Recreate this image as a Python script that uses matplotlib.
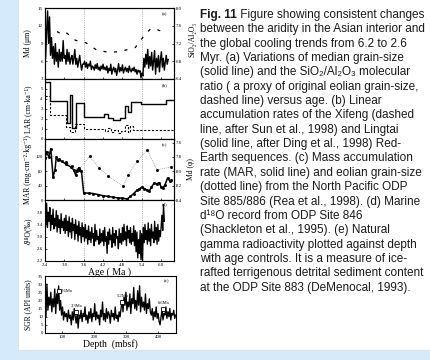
import numpy as np
import matplotlib.pyplot as plt
from matplotlib.patches import Rectangle

serif = ['Liberation Serif', 'DejaVu Serif']
sans = ['Liberation Sans', 'DejaVu Sans']
plt.rcParams['font.family'] = serif

# (a) median grain size (um), evenly sampled 2.42-6.22 Ma
md_um = [6.5, 11, 14.5, 9, 13.5, 7, 10,
         6.5, 8.5, 5.5, 9, 6, 7.5, 5, 8, 6,
         7.5, 6, 9.5, 6.5, 7, 5.5, 8, 6, 7.5, 5.5, 6.5,
         7, 5.5, 6.5, 8, 5.5, 6.5, 5, 6, 7, 5.5, 4.5, 5.5,
         5.5, 6, 5, 5.8, 4.8, 5.5, 5.2, 6, 4.6, 5.2, 5, 4.5, 5.4, 4.8, 5.6, 4.6,
         5, 4.4, 5.2, 4.7, 5.5, 4.6, 5,
         4.5, 5.2, 4, 4.8, 4.4, 5.5, 3.8, 4.6, 5, 4.2, 4.8, 3.6, 4.5, 5.6, 4.2,
         4.9, 4.4, 5.4, 4, 4.6, 5, 4.3, 4.8, 4.1, 5.2, 4.5, 4.2, 4.8, 4.4, 5,
         4.2, 4.6, 3.8, 4.5, 4.2, 4.4,
         3.2, 4, 3.5,
         6.5, 5, 7.2, 5.5, 8, 4.8, 6.8, 5.2, 7.5, 4.5, 6, 7.8, 3.8, 6.5, 5, 7,
         4.2, 6.2, 7.6, 5, 6.5, 4.5, 5.8, 7, 5.5, 6.3]
md_start, md_end = 2.42, 6.22

# (a) SiO2/Al2O3 molecular ratio
sio2_age = [2.77, 2.92, 3.05, 3.35, 3.66, 4.03, 4.43, 4.74, 5.20, 5.51, 5.69, 5.85, 6.03]
sio2_ratio = [7.47, 7.41, 7.45, 7.27, 7.22, 7.04, 7.00, 7.02, 7.11, 7.41, 7.54, 7.52, 7.47]

# (b) linear accumulation rates (cm/ka)
lingtai_age = [2.40, 2.56, 3.08, 3.17, 3.23, 3.35, 3.60, 4.22, 4.34, 4.52, 4.74,
               4.89, 4.98, 5.08, 5.38, 6.15, 6.40]
lingtai_lar = [5.7, 3.8, 1.6, 4.4, 1.1, 3.6, 2.2, 2.5, 2.1, 1.9, 2.1,
               3.3, 2.7, 3.7, 3.5, 3.9, 3.9]
xifeng_age = [2.40, 2.55, 3.06, 3.17, 3.33, 3.60, 4.25, 4.35, 4.45, 4.55, 4.65,
              4.75, 4.88, 4.96, 5.05, 5.12, 6.40]
xifeng_lar = [4.3, 2.4, 1.2, 0.7, 1.5, 1.0, 0.8, 1.1, 0.7, 0.9, 0.6,
              0.8, 1.4, 0.7, 1.3, 0.9, 0.9]

# (c) MAR and eolian grain size (phi)
mar_age = [2.40, 2.45, 2.52, 2.58, 2.65, 2.71, 2.75, 2.80, 2.92, 3.05, 3.20, 3.29,
           3.35, 3.38, 3.45, 3.53, 3.60, 3.75, 3.90, 4.05, 4.20, 4.35, 4.50, 4.65,
           4.80, 4.95, 5.05, 5.15, 5.25, 5.32, 5.40, 5.48, 5.55, 5.62, 5.70, 5.78,
           5.86, 5.94, 6.00, 6.06, 6.12, 6.20, 6.28, 6.32]
mar = [117, 134, 120, 143, 64, 84, 120, 112, 108, 100, 92, 84,
       70, 81, 90, 80, 20, 19, 18, 15, 12, 10, 8, 6,
       5, 3, 10, 18, 27, 30, 36, 32, 28, 24, 35, 47,
       45, 48, 37, 34, 42, 61, 52, 56]
mdphi_age = [2.40, 2.83, 3.05, 3.23, 3.45, 3.78, 4.06, 4.35, 4.82, 4.98, 5.26, 5.57, 5.87, 6.31]
mdphi = [7.74, 7.83, 7.87, 7.92, 7.98, 7.79, 7.95, 8.06, 8.21, 8.05, 7.86, 7.70, 7.98, 7.94]

# (d) benthic d18O, ODP 846, evenly sampled 2.40-6.10 Ma
d18o = [3.9, 3.4, 4.1, 3.3, 3.8, 3.5, 3.95, 3.2, 3.7, 3.4, 3.9, 3.25, 3.6, 3.35, 3.85, 3.15,
        3.7, 3.3, 3.55, 3.1, 3.75, 3.3, 3.5, 3.2,
        3.6, 3.1, 3.7, 3.2, 3.5, 3.0, 3.65, 3.15, 3.45, 2.95, 3.6, 3.2, 3.4, 2.9, 3.55, 3.1,
        3.35, 2.85, 3.5, 3.05, 3.3, 2.8, 3.45, 3.0,
        3.3, 2.85, 3.4, 2.95, 3.2, 2.75, 3.35, 2.9, 3.15, 2.8, 3.3, 2.95, 3.1, 2.7, 3.4, 2.85,
        3.2, 2.9, 3.0, 2.75, 3.25, 2.8, 3.1, 2.85,
        3.2, 2.7, 3.3, 2.85, 3.0, 2.45, 3.15, 2.75, 3.25, 2.9, 3.05, 2.65, 3.3, 2.8, 3.1, 2.7,
        3.2, 2.95, 3.0, 2.6, 3.25, 2.8, 3.1, 2.75,
        3.3, 2.85, 3.4, 2.9, 3.15, 2.7, 3.35, 2.95, 3.2, 2.8, 3.3, 2.75, 3.1, 2.85, 3.35, 2.7,
        3.2, 2.5, 3.15, 2.3, 2.9, 2.45, 3.2, 2.25,
        3.1, 2.2, 3.3, 2.8, 3.4, 2.9, 3.2, 2.75, 3.45, 2.85, 3.25, 2.7, 3.4, 2.95, 3.15, 2.8,
        3.5, 2.9, 3.3, 2.75, 3.4, 2.85, 3.2, 3.0,
        3.3, 3.7, 3.2, 4.05, 3.5]
d18o_start, d18o_end = 2.40, 6.10

# (e) natural gamma (API units), ODP 883, evenly sampled 50-455 mbsf
sgr = [10, 30, 14, 22, 17, 25, 13, 21, 16, 27, 12, 24, 18, 29, 14, 20,
       11, 16, 8, 13, 10,
       12, 7, 14, 9, 11, 5, 13, 8, 15, 10, 6, 12, 3, 11, 9, 14, 7, 12, 10, 16, 8, 11, 6, 13,
       9, 15, 7, 12, 10, 18, 8, 13, 9, 11, 5, 14, 10, 19, 8, 12, 7, 15, 9, 13, 11, 6, 14, 10,
       12, 8, 16, 9, 11, 7, 13, 10,
       15, 20, 13, 22, 17, 25, 14, 19, 16, 24, 12, 21, 18, 28, 15, 20, 14, 26, 17, 29, 13, 22,
       16, 19, 14, 24, 12, 18, 15, 21, 13,
       11, 15, 8, 13, 10, 16, 9, 12, 7, 5, 10, 14, 8, 12, 11, 16, 9, 13, 10, 15, 8, 12, 11, 14, 9, 11]
sgr_start, sgr_end = 50, 455
age_marks = ['2.6Ma', '3.3Ma', '5.2Ma', '6.6Ma']
mark_depth = [90, 143, 288, 416]
mark_sgr = [25.8, 12.9, 19.0, 14.7]

caption = [
    "between the aridity in the Asian interior and",
    "the global cooling trends from 6.2 to 2.6",
    "Myr. (a) Variations of median grain-size",
    "(solid line) and the SiO\u2082/Al\u2082O\u2083 molecular",
    "ratio ( a proxy of original eolian grain-size,",
    "dashed line) versus age. (b) Linear",
    "accumulation rates of the Xifeng (dashed",
    "line, after Sun et al., 1998) and Lingtai",
    "(solid line, after Ding et al., 1998) Red-",
    "Earth sequences. (c) Mass accumulation",
    "rate (MAR, solid line) and eolian grain-size",
    "(dotted line) from the North Pacific ODP",
    "Site 885/886 (Rea et al., 1998). (d) Marine",
    "d\u00b9\u2078O record from ODP Site 846",
    "(Shackleton et al., 1995). (e) Natural",
    "gamma radioactivity plotted against depth",
    "with age controls. It is a measure of ice-",
    "rafted terrigenous detrital sediment content",
    "at the ODP Site 883 (DeMenocal, 1993).",
]

W, H = 430, 360
fig = plt.figure(figsize=(W / 100, H / 100), dpi=100)
fig.patch.set_facecolor('#d5eafa')
fig.add_artist(Rectangle((18 / W, 1 - 350 / H), 1, 1, transform=fig.transFigure,
                         facecolor='white', edgecolor='#e2e2e2', lw=0.8, zorder=-1))


def px_axes(left, top, right, bottom):
    return fig.add_axes([left / W, 1 - bottom / H, (right - left) / W, (bottom - top) / H])


ax_a = px_axes(45, 8, 174, 79)
ax_b = px_axes(45, 79, 174, 139)
ax_c = px_axes(45, 139, 174, 200)
ax_d = px_axes(45, 200, 174, 261)
ax_e = px_axes(45, 276, 176, 333)

age_ticks = [2.4, 3.0, 3.6, 4.2, 4.8, 5.4, 6.0]
for ax in [ax_a, ax_b, ax_c, ax_d]:
    ax.set_xlim(2.4, 6.4)
    ax.set_xticks(age_ticks)
    ax.axvline(3.6, color='0.45', ls=':', lw=0.5)
    ax.axvline(5.4, color='0.45', ls=':', lw=0.5)
    if ax is not ax_d:
        ax.tick_params(labelbottom=False)

for ax in [ax_a, ax_b, ax_c, ax_d, ax_e]:
    ax.tick_params(direction='in', length=1.5, width=0.5, labelsize=3.5, pad=1.5)
    for s in ax.spines.values():
        s.set_linewidth(0.8)

# (a)
md_age = np.linspace(md_start, md_end, len(md_um))
ax_a.plot(md_age, md_um, color='k', lw=1.0)
ax_a.set_ylim(3, 15)
ax_a.set_yticks([3, 6, 9, 12, 15])
ax_a.set_ylabel('Md (\u03bcm)', fontsize=5.5)
ax_a2 = ax_a.twinx()
ax_a2.plot(sio2_age, sio2_ratio, color='k', lw=0.9, dashes=(2.5, 6))
ax_a2.set_ylim(6.4, 8.0)
ax_a2.set_yticks([6.4, 6.8, 7.2, 7.6, 8.0])
ax_a2.set_yticklabels(['6.4', '6.8', '7.2', '7.6', '8.0'])
ax_a2.tick_params(direction='in', length=1.5, width=0.5, labelsize=3.5, pad=1.5)
ax_a2.set_ylabel('SiO\u2082/Al\u2082O\u2083', fontsize=5.5, rotation=90)
ax_a2.yaxis.set_label_coords(1.11, 0.55)
ax_a.text(0.95, 0.94, '(a)', transform=ax_a.transAxes, fontsize=3.5, ha='right', va='top')

# (b)
ax_b.step(lingtai_age, lingtai_lar, where='post', color='k', lw=1.0)
ax_b.step(xifeng_age, xifeng_lar, where='post', color='k', lw=0.8, dashes=(2, 1.5))
ax_b.set_ylim(0, 6)
ax_b.set_yticks([0, 1, 2, 3, 4, 5])
ax_b.set_ylabel('LAR (cm\u00b7ka\u207b\u00b9)', fontsize=5.5)
ax_b.text(0.95, 0.94, '(b)', transform=ax_b.transAxes, fontsize=3.5, ha='right', va='top')

# (c)
ax_c.plot(mar_age, mar, color='k', lw=1.1, marker='s', ms=1.0)
ax_c.set_ylim(0, 170)
ax_c.set_yticks([0, 40, 80, 120])
ax_c.set_ylabel('MAR (mg\u00b7cm\u207b\u00b2\u00b7kg\u207b\u00b9)', fontsize=5.5)
ax_c2 = ax_c.twinx()
ax_c2.plot(mdphi_age, mdphi, color='0.45', lw=0.5, ls=':', marker='s', ms=1.0,
           mfc='k', mec='k')
ax_c2.set_ylim(8.4, 7.55)
ax_c2.set_yticks([7.6, 7.8, 8.0, 8.2, 8.4])
ax_c2.set_yticklabels(['7.6', '7.8', '8.0', '8.2', '8.4'])
ax_c2.tick_params(direction='in', length=1.5, width=0.5, labelsize=3.5, pad=1.5)
ax_c2.set_ylabel('Md (\u03c6)', fontsize=5.5)
ax_c2.yaxis.set_label_coords(1.1, 0.5)
ax_c.text(0.95, 0.94, '(c)', transform=ax_c.transAxes, fontsize=3.5, ha='right', va='top')

# (d)
d18o_age = np.linspace(d18o_start, d18o_end, len(d18o))
ax_d.plot(d18o_age, d18o, color='k', lw=0.95)
ax_d.set_ylim(2.2, 4.2)
ax_d.set_yticks([2.2, 2.6, 3.0, 3.4, 3.8])
ax_d.set_ylabel('\u03b4\u00b9\u2078O(\u2030)', fontsize=5.5)
ax_d.set_xlabel('Age ( Ma )', fontsize=7, labelpad=0)
ax_d.text(0.95, 0.97, '(d)', transform=ax_d.transAxes, fontsize=3.5, ha='right', va='top')

# (e)
depth = np.linspace(sgr_start, sgr_end, len(sgr))
ax_e.plot(depth, sgr, color='k', lw=0.95)
ax_e.set_xlim(47, 456)
ax_e.set_xticks([100, 200, 300, 400])
ax_e.set_ylim(0, 35)
ax_e.set_yticks([0, 5, 10, 15, 20, 25, 30, 35])
ax_e.set_ylabel('SGR (API units)', fontsize=5.5)
ax_e.set_xlabel('Depth  (mbsf)', fontsize=7, labelpad=0)
ax_e.plot(mark_depth, mark_sgr, ls='none', marker='s', ms=2.2, mfc='white', mec='k', mew=0.6)
for lab, dx, dy in zip(age_marks, mark_depth, mark_sgr):
    if lab == '2.6Ma':
        ax_e.text(dx + 6, dy, lab, fontsize=3.3, va='center', ha='left')
    else:
        ax_e.text(dx + 2, dy + 2.2, lab, fontsize=3.3, va='bottom', ha='center')
ax_e.text(0.95, 0.94, '(e)', transform=ax_e.transAxes, fontsize=3.5, ha='right', va='top')

for ax in [ax_a, ax_b, ax_c, ax_d, ax_e]:
    ax.yaxis.set_label_coords(-0.1, 0.5)

# caption
x0 = 200 / W
y0 = 15
dy = 14.35
fs = 8.5
r = fig.canvas.get_renderer()
t = fig.text(x0, 1 - y0 / H, 'Fig. 11', family=sans, fontsize=fs, weight='bold',
             color='#1a1a1a', va='center')
bb = t.get_window_extent(renderer=r)
fig.text(bb.x1 / W, 1 - y0 / H, ' Figure showing consistent changes', family=sans,
         fontsize=fs, color='#1a1a1a', va='center')
for i, line in enumerate(caption):
    fig.text(x0, 1 - (y0 + (i + 1) * dy) / H, line, family=sans, fontsize=fs,
             color='#1a1a1a', va='center')

fig.savefig('out.png', dpi=100, facecolor=fig.get_facecolor())
